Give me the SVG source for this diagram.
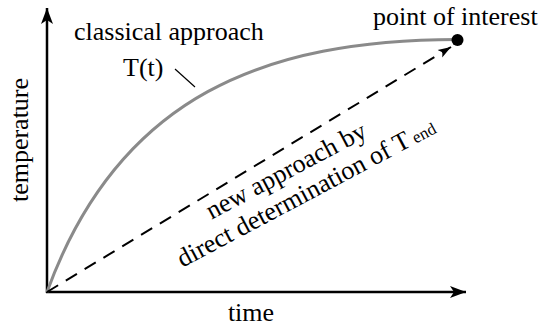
<svg xmlns="http://www.w3.org/2000/svg" width="541" height="329" viewBox="0 0 541 329">
<style>
text{font-family:"Liberation Serif","Times New Roman","DejaVu Serif",serif;font-size:26px;fill:#000}
.axis{stroke:#000;stroke-width:2.5;fill:none}
.curve{stroke:#8a8a8a;stroke-width:3;fill:none}
.dash{stroke:#000;stroke-width:2;fill:none;stroke-dasharray:13 9}
</style>
<defs>
<marker id="ah" markerUnits="userSpaceOnUse" markerWidth="20" markerHeight="14" refX="16" refY="6" orient="auto" viewBox="0 0 20 12">
<path d="M0,0 L16,6 L0,12 L4,6 Z" fill="#000"/>
</marker>
<marker id="ahs" markerUnits="userSpaceOnUse" markerWidth="14" markerHeight="10" refX="13" refY="4.5" orient="auto" viewBox="0 0 14 9">
<path d="M0,0 L13,4.5 L0,9 L3,4.5 Z" fill="#000"/>
</marker>
</defs>
<g id="axes">
<line class="axis" x1="47" y1="293" x2="47" y2="8" marker-end="url(#ah)"/>
<line class="axis" x1="46" y1="292" x2="466" y2="292" marker-end="url(#ah)"/>
</g>
<g id="connectors">
<path id="classical-curve" class="curve" d="M47,292 C119,94 267,40 457,39.5"/>
<line id="new-approach" class="dash" x1="47" y1="292" x2="451" y2="47" marker-end="url(#ahs)"/>
<line id="leader" x1="175" y1="69" x2="195" y2="87" stroke="#000" stroke-width="1.2"/>
</g>
<g id="point-of-interest">
<circle cx="457.5" cy="40" r="6" fill="#000"/>
<text x="373" y="25">point of interest</text>
</g>
<g id="labels">
<text x="74" y="40">classical approach</text>
<text x="123" y="76">T(t)</text>
<text x="251" y="321" text-anchor="middle">time</text>
<text transform="translate(28,140) rotate(-90)" text-anchor="middle">temperature</text>
<text transform="translate(290,178) rotate(-28)" text-anchor="middle">new approach by</text>
<text transform="translate(310,200) rotate(-28)" text-anchor="middle">direct determination of T<tspan font-size="17" dx="4">end</tspan></text>
</g>
</svg>
